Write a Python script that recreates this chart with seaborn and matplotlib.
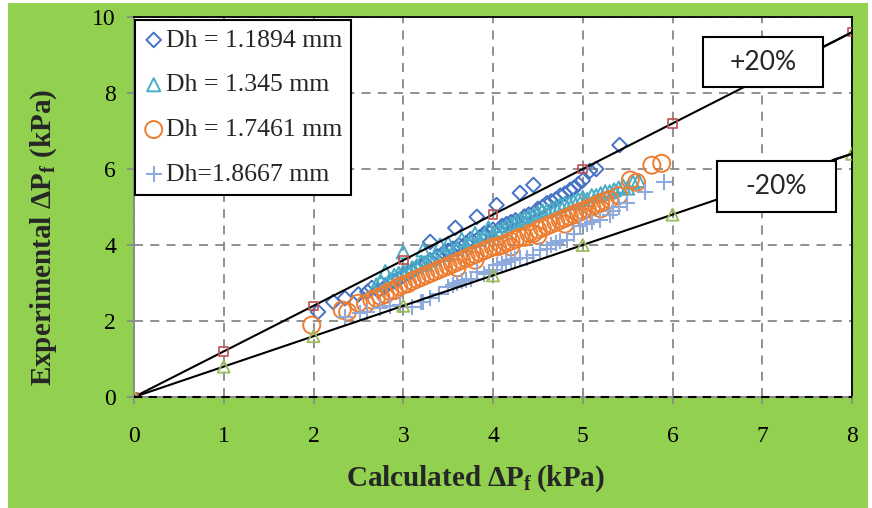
import numpy as np
import pandas as pd
import seaborn as sns
import matplotlib
matplotlib.use("Agg")
import matplotlib.pyplot as plt
from matplotlib.patches import Rectangle

# Measured pressure drop vs. calculated pressure drop (kPa), per hydraulic diameter
d1_calc = [2.05, 2.22, 2.35, 2.5, 2.6, 2.65, 2.72, 2.8, 2.85, 2.9, 2.95, 3.0, 3.05, 3.1, 3.15,
           3.2, 3.25, 3.3, 3.3, 3.38, 3.45, 3.5, 3.55, 3.58, 3.62, 3.7, 3.75, 3.82, 3.85, 3.9,
           3.95, 4.0, 4.04, 4.1, 4.15, 4.2, 4.25, 4.3, 4.35, 4.4, 4.45, 4.5, 4.55, 4.6, 4.65,
           4.7, 4.75, 4.8, 4.86, 4.9, 4.95, 5.0, 5.08, 5.15, 5.41]
d1_exp = [2.24, 2.5, 2.6, 2.7, 2.77, 2.87, 2.8, 2.9, 3.0, 3.05, 3.1, 3.2, 3.25, 3.3, 3.4,
          3.45, 3.5, 3.6, 4.08, 3.7, 3.8, 3.85, 3.9, 4.45, 4.0, 4.05, 4.15, 4.74, 4.2, 4.3,
          4.35, 4.4, 5.05, 4.5, 4.55, 4.6, 4.65, 5.37, 4.75, 4.8, 5.58, 4.95, 5.0, 5.1, 5.15,
          5.2, 5.3, 5.35, 5.45, 5.5, 5.6, 5.7, 5.95, 6.0, 6.63]

d2_calc = [2.7, 2.75, 2.8, 2.85, 2.9, 2.95, 3.0, 3.0, 3.05, 3.1, 3.15, 3.2, 3.22, 3.25, 3.3,
           3.35, 3.41, 3.45, 3.5, 3.55, 3.6, 3.65, 3.7, 3.75, 3.8, 3.85, 3.9, 3.95, 4.0, 4.05,
           4.1, 4.15, 4.2, 4.25, 4.3, 4.35, 4.4, 4.45, 4.5, 4.55, 4.6, 4.65, 4.7, 4.75, 4.8,
           4.85, 4.9, 4.95, 5.0, 5.05, 5.1, 5.15, 5.2, 5.25, 5.3, 5.35, 5.4, 5.45, 5.5, 5.56, 5.62]
d2_exp = [2.95, 3.05, 3.3, 3.1, 3.2, 3.25, 3.82, 3.3, 3.35, 3.4, 3.45, 3.55, 3.87, 3.5, 3.6,
          3.65, 4.0, 3.75, 4.05, 3.8, 3.9, 4.15, 4.0, 4.1, 4.3, 4.15, 4.25, 4.45, 4.3, 4.35,
          4.4, 4.5, 4.55, 4.6, 4.65, 4.7, 4.75, 4.8, 4.85, 4.9, 4.9, 4.95, 5.0, 5.05, 5.1,
          5.1, 5.15, 5.2, 5.25, 5.2, 5.3, 5.3, 5.35, 5.4, 5.4, 5.45, 5.5, 5.55, 5.5, 5.65, 5.7]

d3_calc = [1.98, 2.32, 2.38, 2.5, 2.58, 2.65, 2.7, 2.75, 2.8, 2.85, 2.9, 2.95, 3.0, 3.05, 3.1,
           3.15, 3.2, 3.25, 3.3, 3.35, 3.4, 3.45, 3.5, 3.55, 3.6, 3.6, 3.65, 3.7, 3.75, 3.8,
           3.8, 3.85, 3.9, 3.95, 4.0, 4.05, 4.1, 4.15, 4.2, 4.2, 4.25, 4.3, 4.35, 4.4, 4.45,
           4.5, 4.5, 4.55, 4.6, 4.65, 4.7, 4.75, 4.8, 4.8, 4.85, 4.9, 4.95, 5.0, 5.0, 5.05,
           5.1, 5.15, 5.2, 5.2, 5.25, 5.3, 5.4, 5.53, 5.6, 5.77, 5.88]
d3_exp = [1.89, 2.29, 2.24, 2.47, 2.45, 2.55, 2.6, 2.65, 2.7, 2.78, 2.8, 2.9, 2.95, 2.98, 3.05,
          3.1, 3.15, 3.2, 3.25, 3.3, 3.35, 3.4, 3.45, 3.5, 3.55, 3.4, 3.6, 3.65, 3.7, 3.75,
          3.6, 3.8, 3.85, 3.9, 3.95, 3.95, 4.0, 4.05, 4.1, 3.95, 4.15, 4.2, 4.2, 4.3, 4.3,
          4.4, 4.25, 4.45, 4.5, 4.55, 4.6, 4.65, 4.7, 4.55, 4.75, 4.8, 4.85, 4.9, 4.75, 4.95,
          5.0, 5.05, 5.1, 4.95, 5.15, 5.2, 5.3, 5.71, 5.65, 6.1, 6.15]

d4_calc = [2.35, 2.52, 2.6, 2.74, 2.85, 2.96, 3.1, 3.2, 3.22, 3.3, 3.4, 3.5, 3.55, 3.6, 3.65,
           3.7, 3.75, 3.82, 3.9, 3.95, 4.0, 4.04, 4.1, 4.15, 4.2, 4.25, 4.3, 4.38, 4.45, 4.52,
           4.6, 4.65, 4.7, 4.75, 4.82, 4.9, 4.97, 5.05, 5.1, 5.19, 5.3, 5.34, 5.4, 5.49, 5.69, 5.9]
d4_exp = [2.1, 2.2, 2.25, 2.34, 2.4, 2.42, 2.37, 2.5, 2.5, 2.6, 2.7, 2.9, 2.95, 3.0, 3.05,
          3.08, 3.1, 3.29, 3.25, 3.3, 3.34, 3.47, 3.5, 3.55, 3.6, 3.62, 3.66, 3.66, 3.75, 3.87,
          3.9, 4.0, 4.05, 4.1, 4.13, 4.3, 4.5, 4.55, 4.6, 4.66, 4.8, 4.9, 5.0, 5.1, 5.39, 5.66]

series_labels = ["Dh = 1.1894 mm", "Dh = 1.345 mm", "Dh = 1.7461 mm", "Dh=1.8667 mm"]

# ±20 % error bands
band_x = [0, 1, 2, 3, 4, 5, 6, 8]
band_plus = [0, 1.2, 2.4, 3.6, 4.8, 6.0, 7.2, 9.6]
band_minus = [0, 0.8, 1.6, 2.4, 3.2, 4.0, 4.8, 6.4]

x_ticks = [0, 1, 2, 3, 4, 5, 6, 7, 8]
y_ticks = [0, 2, 4, 6, 8, 10]

sns.set_style("white")
plt.rcParams["font.family"] = ["Liberation Serif", "DejaVu Serif"]
plt.rcParams["mathtext.fontset"] = "custom"
plt.rcParams["mathtext.rm"] = "Liberation Serif"
plt.rcParams["mathtext.bf"] = "Liberation Serif:bold"

fig = plt.figure(figsize=(8.72, 5.08), dpi=100, facecolor="white")
fig.patches.append(Rectangle((8 / 872, 0), 1 - 12 / 872, 1 - 3 / 508, transform=fig.transFigure,
                             facecolor="#92D050", edgecolor="none", zorder=-10))
ax = fig.add_axes([134 / 872, 1 - 397 / 508, 718 / 872, 380 / 508])
ax.set_facecolor("white")

frames = []
for lab, xs, ys in zip(series_labels, [d1_calc, d2_calc, d3_calc, d4_calc],
                       [d1_exp, d2_exp, d3_exp, d4_exp]):
    frames.append(pd.DataFrame({"calc": xs, "exp": ys, "series": lab}))
df = pd.concat(frames, ignore_index=True)

styles = {
    "Dh = 1.1894 mm": dict(marker="D", s=55, color="#4472C4", filled=True),
    "Dh = 1.345 mm": dict(marker="^", s=90, color="#4BACC6", filled=True),
    "Dh = 1.7461 mm": dict(marker="o", s=150, color="#ED7D31", filled=True),
    "Dh=1.8667 mm": dict(marker="+", s=130, color="#8FAADC", filled=False),
}

for lab in series_labels:
    st = styles[lab]
    sub = df[df["series"] == lab]
    if st["filled"]:
        sns.scatterplot(data=sub, x="calc", y="exp", marker=st["marker"], s=st["s"],
                        facecolor="none", edgecolor=st["color"], linewidth=1.4,
                        label=lab, ax=ax, zorder=3)
    else:
        sns.scatterplot(data=sub, x="calc", y="exp", marker=st["marker"], s=st["s"],
                        color=st["color"], linewidth=1.5, label=lab, ax=ax, zorder=3)

band = pd.DataFrame({"x": band_x, "plus": band_plus, "minus": band_minus})
sns.lineplot(data=band, x="x", y="plus", color="black", linewidth=1.5, ax=ax, zorder=4,
             legend=False)
sns.lineplot(data=band, x="x", y="minus", color="black", linewidth=1.5, ax=ax, zorder=4,
             legend=False)
sns.scatterplot(data=band, x="x", y="plus", marker="s", s=38, facecolor="none",
                edgecolor="#C0504D", linewidth=1.2, ax=ax, zorder=5, legend=False)
sns.scatterplot(data=band, x="x", y="minus", marker="^", s=75, facecolor="none",
                edgecolor="#9BBB59", linewidth=1.3, ax=ax, zorder=5, legend=False)

# black dashed baseline along y = 0
ax.plot([0, 8], [0, 0], color="black", linestyle=(0, (4, 3)), linewidth=1.5, zorder=6,
        clip_on=False)

ax.set_xlim(0, 8)
ax.set_ylim(0, 10)
ax.set_xticks(x_ticks)
ax.set_yticks(y_ticks)
ax.tick_params(axis="both", labelsize=17, colors="black", length=5, width=1.2, direction="out",
               bottom=True, left=True)
ax.tick_params(axis="x", pad=16)
ax.tick_params(axis="y", pad=8)
ax.tick_params(axis="both", color="#888888")
ax.grid(True, color="#888888", linestyle=(0, (5, 4)), linewidth=1.3)
ax.set_axisbelow(True)
for side in ["left", "bottom"]:
    ax.spines[side].set_color("#888888")
    ax.spines[side].set_linewidth(1.3)
for side in ["top", "right"]:
    ax.spines[side].set_color("black")
    ax.spines[side].set_linewidth(1.3)

ax.set_xlabel(r"Calculated ΔP$_\mathbf{f}\,$(kPa)", fontsize=21, fontweight="bold")
ax.set_ylabel(r"Experimental ΔP$_\mathbf{f}$ (kPa)", fontsize=21, fontweight="bold")
ax.xaxis.set_label_coords(0.475, -0.175)
ax.yaxis.set_label_coords(-0.104, 0.42)

# annotation boxes for the error bands
for (x0, y0, w, h, txt, lx, ly, px, py) in [
    (6.34, 8.16, 1.34, 1.31, "+20%", 7.68, 9.21, 8, 9.6),
    (6.50, 4.87, 1.32, 1.34, "-20%", 7.79, 6.24, 8, 6.4),
]:
    ax.plot([lx, px], [ly, py], color="black", linewidth=1.5, zorder=7, clip_on=False)
    ax.add_patch(Rectangle((x0, y0), w, h, facecolor="white", edgecolor="black",
                           linewidth=1.5, zorder=8))
    ax.text(x0 + w / 2, y0 + h / 2, txt, ha="center", va="center", fontsize=19,
            family=["Lato", "DejaVu Sans"], zorder=9)

leg = ax.legend(loc="upper left", bbox_to_anchor=(0.0015, 0.993), fontsize=18.5,
                frameon=True, fancybox=False, framealpha=1, edgecolor="black",
                handletextpad=0.1, handlelength=0.75, borderpad=0.35, labelspacing=0.85,
                borderaxespad=0.0, markerscale=1.0)
leg.get_frame().set_linewidth(1.5)
leg.set_zorder(10)

fig.savefig("out.png", dpi=100, facecolor=fig.get_facecolor())
